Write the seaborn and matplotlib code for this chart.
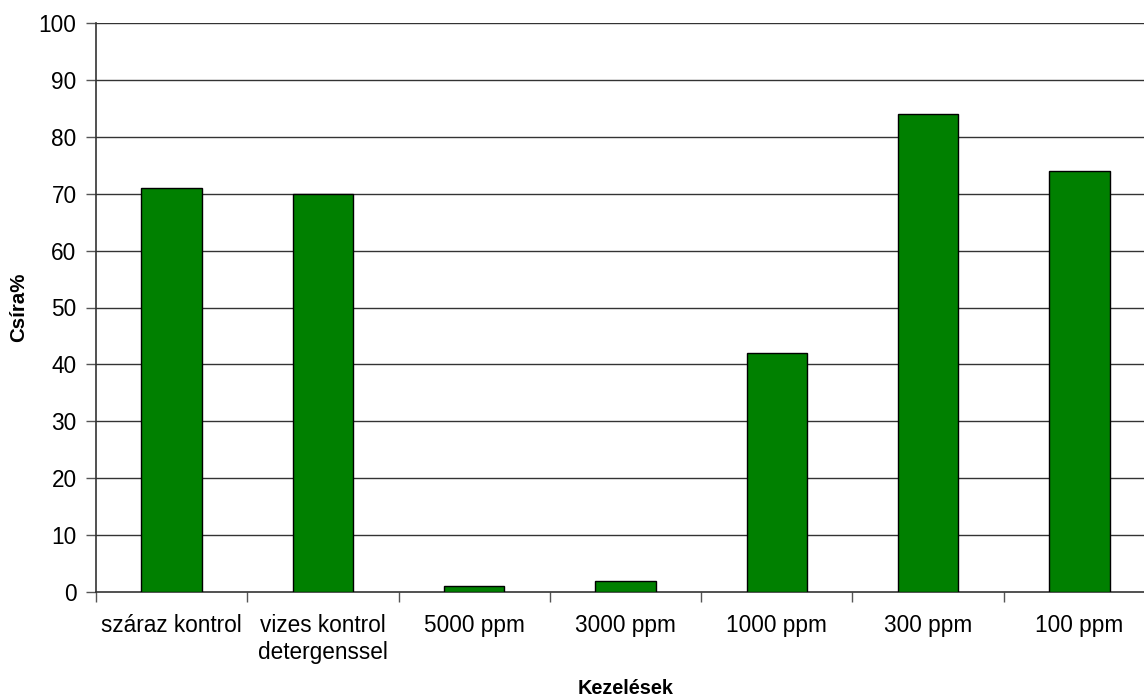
import matplotlib
matplotlib.use("Agg")
import matplotlib.pyplot as plt
import seaborn as sns
import pandas as pd
import numpy as np

categories = ["száraz kontrol", "vizes kontrol\ndetergenssel", "5000 ppm", "3000 ppm",
              "1000 ppm", "300 ppm", "100 ppm"]
values = [71, 70, 1, 2, 42, 84, 74]
yticks = list(range(0, 101, 10))

sns.set_theme(style="white")
plt.rcParams['font.family'] = ['Liberation Sans', 'DejaVu Sans']

fig = plt.figure(figsize=(11.44, 6.97), dpi=100)
ax = fig.add_axes([96/1144, 105/697, 1059/1144, 569/697])

df = pd.DataFrame({"cat": categories, "val": values})
sns.barplot(data=df, x="cat", y="val", color="#008000", width=0.4,
            edgecolor="black", linewidth=1.0, saturation=1, ax=ax, zorder=3)

ax.set_ylim(0, 100)
ax.set_xlim(-0.5, len(categories) - 0.5)
ax.set_yticks(yticks)
for y in yticks[1:]:
    ax.axhline(y, color="#333333", linewidth=1.0, zorder=1)

ax.set_xticks(np.arange(-0.5, len(categories) - 0.4, 1.0))
ax.set_xticklabels([])
ax.set_xticks(np.arange(len(categories)), minor=True)
ax.set_xticklabels(categories, minor=True, fontsize=16.3, linespacing=1.2)
ax.tick_params(axis="x", which="major", direction="out", length=7, width=1, color="#555555", bottom=True)
ax.tick_params(axis="x", which="minor", length=0, pad=16)
ax.tick_params(axis="y", direction="out", length=7, width=1, color="#555555", left=True, labelsize=16.3, pad=7)
for lbl in ax.get_yticklabels():
    lbl.set_color("black")
for lbl in ax.get_xticklabels(minor=True):
    lbl.set_color("black")

for s in ["top", "right"]:
    ax.spines[s].set_visible(False)
for s in ["left", "bottom"]:
    ax.spines[s].set_color("#333333")
    ax.spines[s].set_linewidth(1.2)

ax.set_xlabel("Kezelések", fontsize=14.3, fontweight="bold", color="black")
ax.xaxis.label.set_va("center")
ax.xaxis.set_label_coords((626 - 96) / 1059, -(688 - 592) / 569)
ax.set_ylabel("Csíra%", fontsize=14.8, fontweight="bold", color="black")
ax.yaxis.label.set_va("center")
ax.yaxis.set_label_coords(-(96 - 19) / 1059, 0.5)

fig.savefig("out.png", dpi=100, facecolor="white")
